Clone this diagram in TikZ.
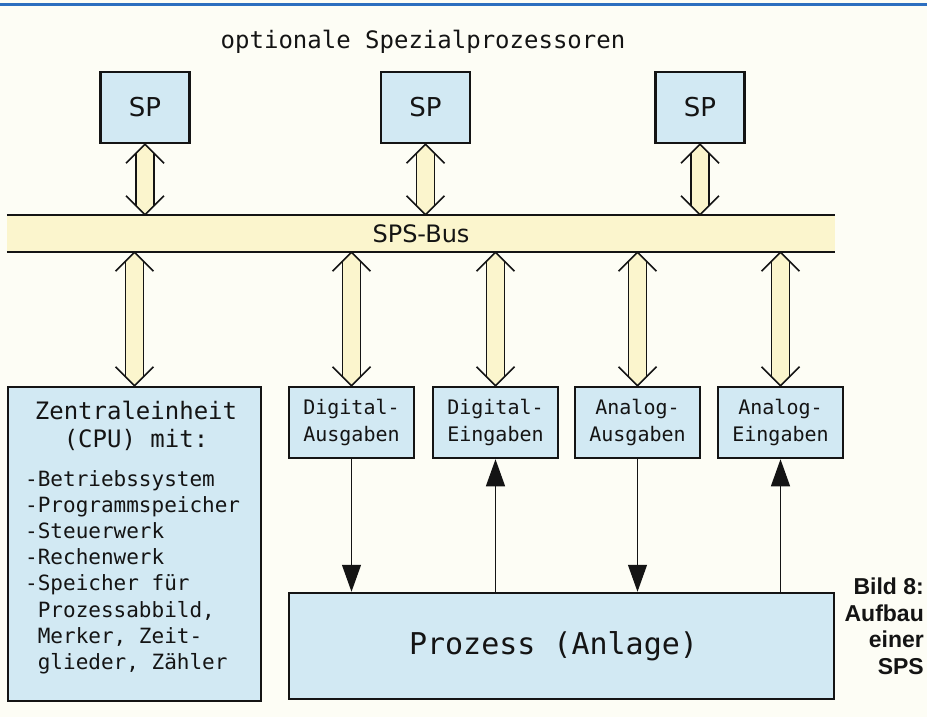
\documentclass[tikz,border=0pt]{standalone}
\usepackage{fontspec}
\setmainfont{DejaVu Sans}
\newfontfamily\plotfont{DejaVu Sans Mono}
\newfontfamily\capfont{Liberation Sans}
\usetikzlibrary{calc,arrows.meta}

\definecolor{paper}{RGB}{253,253,245}
\definecolor{boxblue}{RGB}{210,233,243}
\definecolor{busyellow}{RGB}{251,245,205}
\definecolor{ruleblue}{RGB}{44,111,191}
\definecolor{ink}{RGB}{20,20,20}

\tikzset{
  unit/.style={draw=ink, line width=2.5pt, fill=boxblue, inner sep=0pt, text=ink},
  spbox/.style={unit, minimum width=89pt, minimum height=71pt, font=\fontsize{26}{30}\selectfont},
  iobox/.style={unit, minimum width=125pt, minimum height=71pt, align=center, font=\plotfont\fontsize{20}{27}\selectfont},
  busline/.style={draw=ink, line width=1.6pt},
  signal/.style={draw=ink, line width=1.2pt, -{Triangle[length=27pt,width=19pt]}},
}

\newcommand{\busarrow}[2]{%
  \fill[busyellow] (#1) -- ($(#1)+(9,9)$) -- ($(#2)+(9,-9)$) -- (#2) -- ($(#2)+(-9,-9)$) -- ($(#1)+(-9,9)$) -- cycle;
  \draw[busline] ($(#1)+(-19,19)$) -- (#1) -- ($(#1)+(19,19)$);
  \draw[busline] ($(#1)+(-9,9)$) -- ($(#2)+(-9,-9)$);
  \draw[busline] ($(#1)+(9,9)$) -- ($(#2)+(9,-9)$);
  \draw[busline] ($(#2)+(-19,-19)$) -- (#2) -- ($(#2)+(19,-19)$);
}

\begin{document}
\begin{tikzpicture}[x=1pt,y=-1pt]
    \fill[paper] (0,0) rectangle (927,717);
    \useasboundingbox (0,0) rectangle (927,717);
    \draw[ruleblue, line width=3pt] (0,5) -- (927,5);

    \node[font=\plotfont\fontsize{24}{28}\selectfont, text=ink] (title) at (423,42) {optionale Spezialprozessoren};

    \node[spbox] (sp1) at (145,107.5) {SP};
    \node[spbox] (sp2) at (425.5,107.5) {SP};
    \node[spbox] (sp3) at (700,107.5) {SP};

    \node[fill=busyellow, minimum width=828pt, minimum height=37pt, inner sep=0pt, text=ink,
          font=\fontsize{24}{28}\selectfont] (bus) at (421,233.5) {SPS-Bus};
    \draw[busline] (bus.north west) -- (bus.north east);
    \draw[busline] (bus.south west) -- (bus.south east);

    \node[unit, minimum width=253pt, minimum height=314pt] (cpu) at (134.5,544) {};
    \node[iobox] (dout) at (351.5,422.5) {Digital-\\Ausgaben};
    \node[iobox] (din) at (495.5,422.5) {Digital-\\Eingaben};
    \node[iobox] (aout) at (637.5,422.5) {Analog-\\Ausgaben};
    \node[iobox] (ain) at (780.5,422.5) {Analog-\\Eingaben};
    \node[unit, minimum width=545pt, minimum height=106pt] (proc) at (561.5,646) {};
    \node[font=\plotfont\fontsize{30}{34}\selectfont, text=ink] (proctext) at ($(proc.center)+(-8,0)$) {Prozess (Anlage)};

    \node[font=\plotfont\fontsize{24}{28}\selectfont, align=center, text=ink] (cpuhead) at (136,426) {Zentraleinheit\\(CPU) mit:};
    \node[font=\plotfont\fontsize{21}{26.2}\selectfont, align=left, anchor=west, inner sep=0pt, text=ink] (cpulist) at (25,572)
        {-Betriebssystem\\-Programmspeicher\\-Steuerwerk\\-Rechenwerk\\-Speicher für\\\phantom{-}Prozessabbild,\\\phantom{-}Merker, Zeit-\\\phantom{-}glieder, Zähler};

    \foreach \n in {sp1,sp2,sp3} {
        \coordinate (\n-bus) at (\n.south |- bus.north);
        \busarrow{\n.south}{\n-bus}
    }
    \foreach \n in {cpu,dout,din,aout,ain} {
        \coordinate (\n-bus) at (\n.north |- bus.south);
        \busarrow{\n-bus}{\n.north}
    }

    \draw[signal] (dout.south) -- (dout.south |- proc.north);
    \draw[signal] (din.south |- proc.north) -- (din.south);
    \draw[signal] (aout.south) -- (aout.south |- proc.north);
    \draw[signal] (ain.south |- proc.north) -- (ain.south);

    \node[font=\capfont\bfseries\fontsize{23}{26.5}\selectfont, align=right, anchor=north east, inner sep=0pt, text=ink] (caption) at (924,578)
        {Bild 8:\\Aufbau\\einer\\SPS};
\end{tikzpicture}
\end{document}
